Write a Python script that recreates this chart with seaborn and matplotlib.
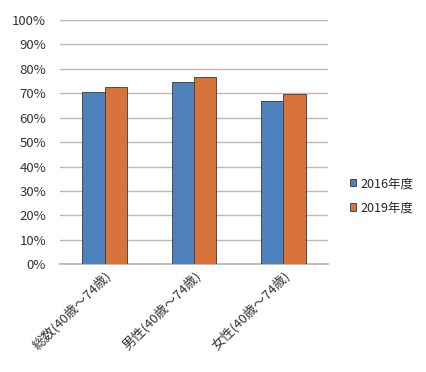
import matplotlib
matplotlib.use("Agg")
import matplotlib.pyplot as plt
import seaborn as sns
import pandas as pd
from matplotlib.ticker import PercentFormatter

# Data
categories = ["総数(40歳～74歳)", "男性(40歳～74歳)", "女性(40歳～74歳)"]
years = ["2016年度", "2019年度"]
rate_2016 = [70.7, 74.6, 66.8]
rate_2019 = [72.7, 76.6, 69.8]
colors = ["#4f81bd", "#d8733b"]

df = pd.DataFrame({
    "category": categories * 2,
    "year": [years[0]] * 3 + [years[1]] * 3,
    "rate": rate_2016 + rate_2019,
})

sns.set_theme(style="white")
plt.rcParams["font.family"] = ["Noto Sans CJK JP", "DejaVu Sans"]

fig = plt.figure(figsize=(4.26, 3.72), dpi=100)
ax = fig.add_axes([0.141, 0.290, 0.629, 0.656])

sns.barplot(data=df, x="category", y="rate", hue="year", palette=colors,
            width=0.5, gap=0, edgecolor="#3a3a3a", linewidth=0.6,
            saturation=1, ax=ax, zorder=3)

ax.set_ylim(0, 100)
ax.set_xlim(-0.5, 2.5)
ax.set_yticks(range(0, 101, 10))
ax.yaxis.set_major_formatter(PercentFormatter(decimals=0))
ax.grid(axis="y", color="#c2b6ae", linewidth=1.0, zorder=0)
ax.set_axisbelow(True)
for s in ["top", "right", "left"]:
    ax.spines[s].set_visible(False)
ax.spines["bottom"].set_color("#c2b6ae")
ax.tick_params(axis="both", length=0, labelsize=9.5, colors="#333333")
ax.tick_params(axis="y", pad=10)
ax.set_xlabel("")
ax.set_ylabel("")
plt.setp(ax.get_xticklabels(), rotation=45, ha="right", rotation_mode="anchor")

leg = ax.legend(loc="center left", bbox_to_anchor=(1.04, 0.28), frameon=False,
                fontsize=9, handlelength=0.5, handleheight=0.5,
                handletextpad=0.3, labelspacing=0.9)

fig.savefig("out.png", dpi=100)
